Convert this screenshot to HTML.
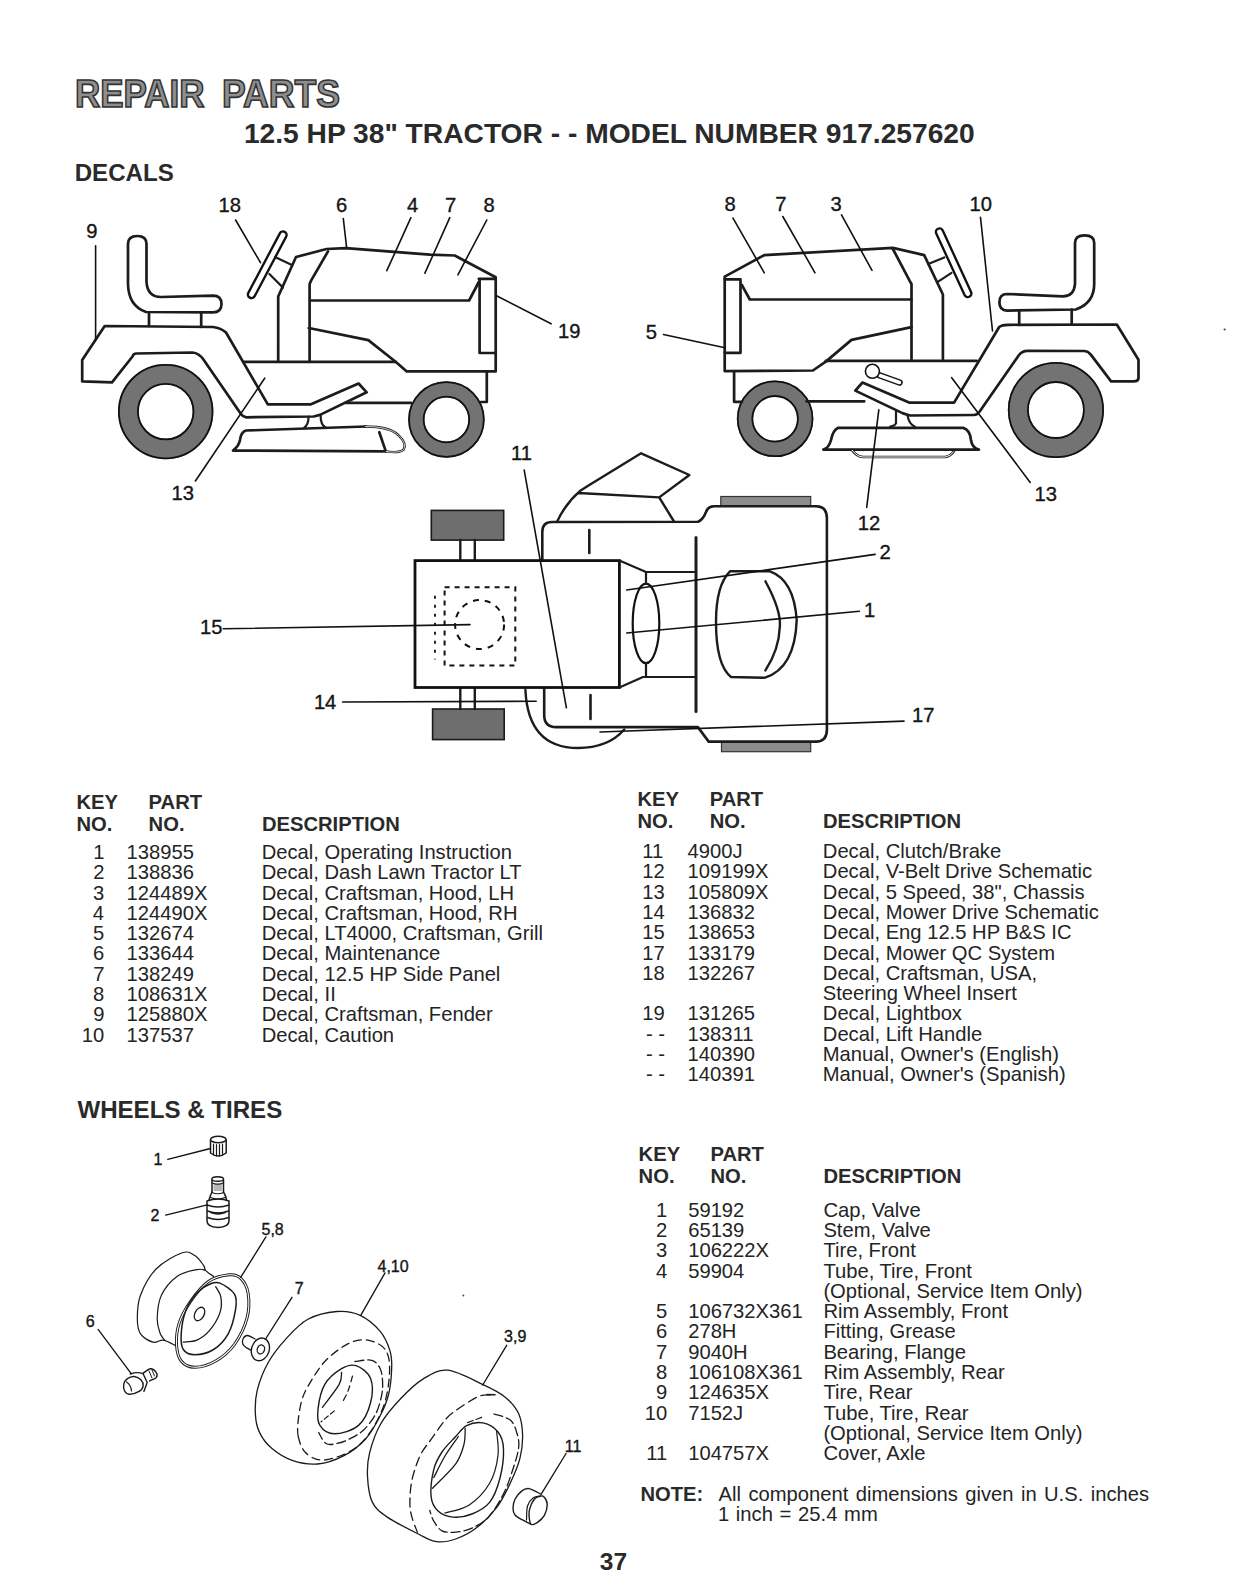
<!DOCTYPE html>
<html><head><meta charset="utf-8"><style>
html,body{margin:0;padding:0;background:#fff;overflow:hidden;width:1244px;height:1584px;}
svg{display:block;font-family:"Liberation Sans",sans-serif;}
</style></head><body>
<svg width="1244" height="1584" viewBox="0 0 1244 1584">
<rect width="1244" height="1584" fill="#fff"/>
<text transform="translate(74.9,106.6) scale(1,1.092)" font-size="35.0" font-weight="bold" fill="#8e8e8e" stroke="#333" stroke-width="1.5">REPAIR</text>
<text transform="translate(221.9,106.6) scale(1,1.074)" font-size="35.6" font-weight="bold" fill="#8e8e8e" stroke="#333" stroke-width="1.5">PARTS</text>
<text x="243.9" y="142.6" font-size="28.2" font-weight="bold" fill="#2a2a2a">12.5 HP 38" TRACTOR - - MODEL NUMBER 917.257620</text>
<text x="74.7" y="180.9" font-size="24.1" font-weight="bold" fill="#2a2a2a">DECALS</text>
<text x="77.4" y="1118.1" font-size="24.1" font-weight="bold" fill="#2a2a2a">WHEELS &amp; TIRES</text>
<text x="599.8" y="1570.3" font-size="24.5" font-weight="bold" fill="#2a2a2a">37</text>
<text x="76.5" y="808.9" font-size="20.2" font-weight="bold" fill="#2a2a2a">KEY</text>
<text x="76.5" y="830.7" font-size="20.2" font-weight="bold" fill="#2a2a2a">NO.</text>
<text x="148.6" y="808.9" font-size="20.2" font-weight="bold" fill="#2a2a2a">PART</text>
<text x="148.6" y="830.7" font-size="20.2" font-weight="bold" fill="#2a2a2a">NO.</text>
<text x="261.9" y="830.7" font-size="20.2" font-weight="bold" fill="#2a2a2a">DESCRIPTION</text>
<text x="104.4" y="858.9" font-size="20.2" text-anchor="end" fill="#242424">1</text>
<text x="126.6" y="858.9" font-size="20.2" fill="#242424">138955</text>
<text x="261.7" y="858.9" font-size="20.2" fill="#242424">Decal, Operating Instruction</text>
<text x="104.4" y="879.2" font-size="20.2" text-anchor="end" fill="#242424">2</text>
<text x="126.6" y="879.2" font-size="20.2" fill="#242424">138836</text>
<text x="261.7" y="879.2" font-size="20.2" fill="#242424">Decal, Dash Lawn Tractor LT</text>
<text x="104.3" y="899.5" font-size="20.2" text-anchor="end" fill="#242424">3</text>
<text x="126.6" y="899.5" font-size="20.2" fill="#242424">124489X</text>
<text x="261.7" y="899.5" font-size="20.2" fill="#242424">Decal, Craftsman, Hood, LH</text>
<text x="104.0" y="919.8" font-size="20.2" text-anchor="end" fill="#242424">4</text>
<text x="126.6" y="919.8" font-size="20.2" fill="#242424">124490X</text>
<text x="261.7" y="919.8" font-size="20.2" fill="#242424">Decal, Craftsman, Hood, RH</text>
<text x="104.2" y="940.1" font-size="20.2" text-anchor="end" fill="#242424">5</text>
<text x="126.6" y="940.1" font-size="20.2" fill="#242424">132674</text>
<text x="261.7" y="940.1" font-size="20.2" fill="#242424">Decal, LT4000, Craftsman, Grill</text>
<text x="104.3" y="960.4" font-size="20.2" text-anchor="end" fill="#242424">6</text>
<text x="126.6" y="960.4" font-size="20.2" fill="#242424">133644</text>
<text x="261.7" y="960.4" font-size="20.2" fill="#242424">Decal, Maintenance</text>
<text x="104.4" y="980.7" font-size="20.2" text-anchor="end" fill="#242424">7</text>
<text x="126.6" y="980.7" font-size="20.2" fill="#242424">138249</text>
<text x="261.7" y="980.7" font-size="20.2" fill="#242424">Decal, 12.5 HP Side Panel</text>
<text x="104.3" y="1001.0" font-size="20.2" text-anchor="end" fill="#242424">8</text>
<text x="126.6" y="1001.0" font-size="20.2" fill="#242424">108631X</text>
<text x="261.7" y="1001.0" font-size="20.2" fill="#242424">Decal, II</text>
<text x="104.4" y="1021.3" font-size="20.2" text-anchor="end" fill="#242424">9</text>
<text x="126.6" y="1021.3" font-size="20.2" fill="#242424">125880X</text>
<text x="261.7" y="1021.3" font-size="20.2" fill="#242424">Decal, Craftsman, Fender</text>
<text x="104.2" y="1041.6" font-size="20.2" text-anchor="end" fill="#242424">10</text>
<text x="126.6" y="1041.6" font-size="20.2" fill="#242424">137537</text>
<text x="261.7" y="1041.6" font-size="20.2" fill="#242424">Decal, Caution</text>
<text x="637.4" y="806.2" font-size="20.2" font-weight="bold" fill="#2a2a2a">KEY</text>
<text x="637.4" y="827.7" font-size="20.2" font-weight="bold" fill="#2a2a2a">NO.</text>
<text x="709.7" y="806.2" font-size="20.2" font-weight="bold" fill="#2a2a2a">PART</text>
<text x="709.7" y="827.7" font-size="20.2" font-weight="bold" fill="#2a2a2a">NO.</text>
<text x="823.0" y="828.2" font-size="20.2" font-weight="bold" fill="#2a2a2a">DESCRIPTION</text>
<text x="642.2" y="858.0" font-size="20.2" fill="#242424">11</text>
<text x="687.6" y="858.0" font-size="20.2" fill="#242424">4900J</text>
<text x="822.8" y="858.0" font-size="20.2" fill="#242424">Decal, Clutch/Brake</text>
<text x="642.2" y="878.3" font-size="20.2" fill="#242424">12</text>
<text x="687.6" y="878.3" font-size="20.2" fill="#242424">109199X</text>
<text x="822.8" y="878.3" font-size="20.2" fill="#242424">Decal, V-Belt Drive Schematic</text>
<text x="642.2" y="898.6" font-size="20.2" fill="#242424">13</text>
<text x="687.6" y="898.6" font-size="20.2" fill="#242424">105809X</text>
<text x="822.8" y="898.6" font-size="20.2" fill="#242424">Decal, 5 Speed, 38", Chassis</text>
<text x="642.2" y="918.9" font-size="20.2" fill="#242424">14</text>
<text x="687.6" y="918.9" font-size="20.2" fill="#242424">136832</text>
<text x="822.8" y="918.9" font-size="20.2" fill="#242424">Decal, Mower Drive Schematic</text>
<text x="642.2" y="939.2" font-size="20.2" fill="#242424">15</text>
<text x="687.6" y="939.2" font-size="20.2" fill="#242424">138653</text>
<text x="822.8" y="939.2" font-size="20.2" fill="#242424">Decal, Eng 12.5 HP B&amp;S IC</text>
<text x="642.2" y="959.5" font-size="20.2" fill="#242424">17</text>
<text x="687.6" y="959.5" font-size="20.2" fill="#242424">133179</text>
<text x="822.8" y="959.5" font-size="20.2" fill="#242424">Decal, Mower QC System</text>
<text x="642.2" y="979.8" font-size="20.2" fill="#242424">18</text>
<text x="687.6" y="979.8" font-size="20.2" fill="#242424">132267</text>
<text x="822.8" y="979.8" font-size="20.2" fill="#242424">Decal, Craftsman, USA,</text>
<text x="822.8" y="1000.1" font-size="20.2" fill="#242424">Steering Wheel Insert</text>
<text x="642.2" y="1020.4" font-size="20.2" fill="#242424">19</text>
<text x="687.6" y="1020.4" font-size="20.2" fill="#242424">131265</text>
<text x="822.8" y="1020.4" font-size="20.2" fill="#242424">Decal, Lightbox</text>
<text x="645.9" y="1040.7" font-size="20.2" fill="#242424">- -</text>
<text x="687.6" y="1040.7" font-size="20.2" fill="#242424">138311</text>
<text x="822.8" y="1040.7" font-size="20.2" fill="#242424">Decal, Lift Handle</text>
<text x="645.9" y="1061.0" font-size="20.2" fill="#242424">- -</text>
<text x="687.6" y="1061.0" font-size="20.2" fill="#242424">140390</text>
<text x="822.8" y="1061.0" font-size="20.2" fill="#242424">Manual, Owner's (English)</text>
<text x="645.9" y="1081.3" font-size="20.2" fill="#242424">- -</text>
<text x="687.6" y="1081.3" font-size="20.2" fill="#242424">140391</text>
<text x="822.8" y="1081.3" font-size="20.2" fill="#242424">Manual, Owner's (Spanish)</text>
<text x="638.6" y="1161.2" font-size="20.2" font-weight="bold" fill="#2a2a2a">KEY</text>
<text x="638.6" y="1182.7" font-size="20.2" font-weight="bold" fill="#2a2a2a">NO.</text>
<text x="710.5" y="1161.2" font-size="20.2" font-weight="bold" fill="#2a2a2a">PART</text>
<text x="710.5" y="1182.7" font-size="20.2" font-weight="bold" fill="#2a2a2a">NO.</text>
<text x="823.4" y="1183.2" font-size="20.2" font-weight="bold" fill="#2a2a2a">DESCRIPTION</text>
<text x="667.3" y="1216.6" font-size="20.2" text-anchor="end" fill="#242424">1</text>
<text x="688.2" y="1216.6" font-size="20.2" fill="#242424">59192</text>
<text x="823.4" y="1216.6" font-size="20.2" fill="#242424">Cap, Valve</text>
<text x="667.3" y="1236.9" font-size="20.2" text-anchor="end" fill="#242424">2</text>
<text x="688.2" y="1236.9" font-size="20.2" fill="#242424">65139</text>
<text x="823.4" y="1236.9" font-size="20.2" fill="#242424">Stem, Valve</text>
<text x="667.3" y="1257.2" font-size="20.2" text-anchor="end" fill="#242424">3</text>
<text x="688.2" y="1257.2" font-size="20.2" fill="#242424">106222X</text>
<text x="823.4" y="1257.2" font-size="20.2" fill="#242424">Tire, Front</text>
<text x="667.3" y="1277.5" font-size="20.2" text-anchor="end" fill="#242424">4</text>
<text x="688.2" y="1277.5" font-size="20.2" fill="#242424">59904</text>
<text x="823.4" y="1277.5" font-size="20.2" fill="#242424">Tube, Tire, Front</text>
<text x="823.4" y="1297.8" font-size="20.2" fill="#242424">(Optional, Service Item Only)</text>
<text x="667.3" y="1318.1" font-size="20.2" text-anchor="end" fill="#242424">5</text>
<text x="688.2" y="1318.1" font-size="20.2" fill="#242424">106732X361</text>
<text x="823.4" y="1318.1" font-size="20.2" fill="#242424">Rim Assembly, Front</text>
<text x="667.3" y="1338.4" font-size="20.2" text-anchor="end" fill="#242424">6</text>
<text x="688.2" y="1338.4" font-size="20.2" fill="#242424">278H</text>
<text x="823.4" y="1338.4" font-size="20.2" fill="#242424">Fitting, Grease</text>
<text x="667.3" y="1358.7" font-size="20.2" text-anchor="end" fill="#242424">7</text>
<text x="688.2" y="1358.7" font-size="20.2" fill="#242424">9040H</text>
<text x="823.4" y="1358.7" font-size="20.2" fill="#242424">Bearing, Flange</text>
<text x="667.3" y="1379.0" font-size="20.2" text-anchor="end" fill="#242424">8</text>
<text x="688.2" y="1379.0" font-size="20.2" fill="#242424">106108X361</text>
<text x="823.4" y="1379.0" font-size="20.2" fill="#242424">Rim Assembly, Rear</text>
<text x="667.3" y="1399.3" font-size="20.2" text-anchor="end" fill="#242424">9</text>
<text x="688.2" y="1399.3" font-size="20.2" fill="#242424">124635X</text>
<text x="823.4" y="1399.3" font-size="20.2" fill="#242424">Tire, Rear</text>
<text x="667.3" y="1419.6" font-size="20.2" text-anchor="end" fill="#242424">10</text>
<text x="688.2" y="1419.6" font-size="20.2" fill="#242424">7152J</text>
<text x="823.4" y="1419.6" font-size="20.2" fill="#242424">Tube, Tire, Rear</text>
<text x="823.4" y="1439.9" font-size="20.2" fill="#242424">(Optional, Service Item Only)</text>
<text x="667.3" y="1460.2" font-size="20.2" text-anchor="end" fill="#242424">11</text>
<text x="688.2" y="1460.2" font-size="20.2" fill="#242424">104757X</text>
<text x="823.4" y="1460.2" font-size="20.2" fill="#242424">Cover, Axle</text>
<text x="640.4" y="1501.4" font-size="20.2" font-weight="bold" fill="#2a2a2a">NOTE:</text>
<text x="718.6" y="1501.4" font-size="20.2" word-spacing="1.8" fill="#242424">All component dimensions given in U.S. inches</text>
<text x="717.9" y="1521.1" font-size="20.2" word-spacing="1.1" fill="#242424">1 inch = 25.4 mm</text>
<circle cx="165.7" cy="411.6" r="37.3" fill="none" stroke="#737373" stroke-width="20.6"/><circle cx="165.7" cy="411.6" r="46.800000000000004" fill="none" stroke="#111" stroke-width="1.8"/><circle cx="165.7" cy="411.6" r="27.8" fill="none" stroke="#111" stroke-width="1.8"/>
<circle cx="446.4" cy="419.5" r="30.1" fill="none" stroke="#737373" stroke-width="16.200000000000003"/><circle cx="446.4" cy="419.5" r="37.400000000000006" fill="none" stroke="#111" stroke-width="1.8"/><circle cx="446.4" cy="419.5" r="22.8" fill="none" stroke="#111" stroke-width="1.8"/>
<path d="M128,284 L128,244 Q128,236 137.3,236 Q146.5,236 146.5,244 L146.5,282 Q147.5,297 161,297 L213,295.6 Q221.5,295.6 221.5,304 Q221.5,312.4 213,312.4 L146,312 Q128.5,306 128,284 Z" fill="none" stroke="#1c1c1c" stroke-width="2.7" stroke-linejoin="round" stroke-linecap="round"/>
<path d="M149,312.4 L149,326 M201.2,312.4 L201.2,327" fill="none" stroke="#1c1c1c" stroke-width="2.7" stroke-linejoin="round" stroke-linecap="round"/>
<path d="M104.7,326 L213,327 Q221,328 226,332.5 L267.8,404.4 L310.4,404.4 L358.6,383.5 L366.7,392.3 L320,414.9 L313.6,416.5 L246,417.3 Q242,416 240.6,413.6 L203.6,359.7 Q199,353 192.4,352.5 L136,353.5 Q133,354 132.9,356 L112,382.3 L82.2,381.4 L82.2,360 Z" fill="none" stroke="#1c1c1c" stroke-width="2.7" stroke-linejoin="round" stroke-linecap="round"/>
<path d="M243.7,361.8 L395.6,361.8" fill="none" stroke="#1c1c1c" stroke-width="2.7" stroke-linejoin="round" stroke-linecap="round"/>
<path d="M345.8,402.8 L411,402.8 M481,402 L486.8,402 L486.8,371.4" fill="none" stroke="#1c1c1c" stroke-width="2.7" stroke-linejoin="round" stroke-linecap="round"/>
<path d="M278.2,361.8 L278.2,296.5 L296,257 L326.5,249 L345.8,248.2 L430,254.7 L454.7,255.5 L495.7,277.2 L495.7,371.4 L406.8,371.4 L395.6,361.8 L368.3,340.1 L308.8,328" fill="none" stroke="#1c1c1c" stroke-width="2.7" stroke-linejoin="round" stroke-linecap="round"/>
<path d="M328,251.4 L311.2,280.4 L309.6,284 L309.6,361.8" fill="none" stroke="#1c1c1c" stroke-width="2.7" stroke-linejoin="round" stroke-linecap="round"/>
<path d="M310,300.5 L469.1,300.5 L478.8,282" fill="none" stroke="#1c1c1c" stroke-width="2.7" stroke-linejoin="round" stroke-linecap="round"/>
<path d="M478.8,278.8 L494.9,278.8 M479.6,279 L479.6,353 L495.7,353" fill="none" stroke="#1c1c1c" stroke-width="2.7" stroke-linejoin="round" stroke-linecap="round"/>
<line x1="283" y1="235" x2="251.5" y2="294.5" stroke="#111" stroke-width="9.5" stroke-linecap="round"/><line x1="283" y1="235" x2="251.5" y2="294.5" stroke="#fff" stroke-width="4.8" stroke-linecap="round"/>
<path d="M275,257 L291.9,265 M269.4,274 L283,287.6" fill="none" stroke="#1c1c1c" stroke-width="2.2" stroke-linejoin="round" stroke-linecap="round"/>
<path d="M379.3,432.2 L385.8,451.4 L233,450.6 Q239,446 240,440 Q241,432 246,430.5 L366,426.5" fill="none" stroke="#1c1c1c" stroke-width="2.7" stroke-linejoin="round" stroke-linecap="round"/>
<path d="M364.9,426.5 C378,426.5 392,428.5 398.6,435.4 C404,440.5 406,446 403.5,449.8 C400,452.5 393,452.5 385.8,451.4" fill="none" stroke="#1c1c1c" stroke-width="2.4" stroke-linejoin="round" stroke-linecap="round"/>
<path d="M364.9,426.5 C378,426.5 392,428.5 398.6,435.4 C404,440.5 406,446 403.5,449.8 C400,452.5 393,452.5 385.8,451.4" fill="none" stroke="#fff" stroke-width="0.8"/>
<path d="M308.6,416.5 Q308.6,425 303.8,428.1 M320.7,415.3 Q320.2,425 326.3,428.1" fill="none" stroke="#1c1c1c" stroke-width="2.2" stroke-linejoin="round" stroke-linecap="round"/>
<line x1="95.6" y1="245.7" x2="95.6" y2="340" stroke="#111" stroke-width="1.6" stroke-linecap="round"/>
<line x1="235.6" y1="220" x2="260.5" y2="262.7" stroke="#111" stroke-width="1.6" stroke-linecap="round"/>
<line x1="343.3" y1="218.5" x2="346.6" y2="247.4" stroke="#111" stroke-width="1.6" stroke-linecap="round"/>
<line x1="410.9" y1="217.7" x2="386.8" y2="270.7" stroke="#111" stroke-width="1.6" stroke-linecap="round"/>
<line x1="449.8" y1="217.7" x2="424.9" y2="273.2" stroke="#111" stroke-width="1.6" stroke-linecap="round"/>
<line x1="486.8" y1="220" x2="457.9" y2="274.8" stroke="#111" stroke-width="1.6" stroke-linecap="round"/>
<line x1="496.5" y1="295.7" x2="551.1" y2="323.8" stroke="#111" stroke-width="1.6" stroke-linecap="round"/>
<line x1="264.7" y1="378.2" x2="195.4" y2="481" stroke="#111" stroke-width="1.6" stroke-linecap="round"/>
<text x="218.6" y="212.2" font-size="20.2" fill="#151515" stroke="#151515" stroke-width="0.35">18</text>
<text x="336.1" y="212.4" font-size="20.2" fill="#151515" stroke="#151515" stroke-width="0.35">6</text>
<text x="407.1" y="212.4" font-size="20.2" fill="#151515" stroke="#151515" stroke-width="0.35">4</text>
<text x="445.1" y="212.4" font-size="20.2" fill="#151515" stroke="#151515" stroke-width="0.35">7</text>
<text x="483.4" y="212.4" font-size="20.2" fill="#151515" stroke="#151515" stroke-width="0.35">8</text>
<text x="86.2" y="237.5" font-size="20.2" fill="#151515" stroke="#151515" stroke-width="0.35">9</text>
<text x="558.0" y="338.1" font-size="20.2" fill="#151515" stroke="#151515" stroke-width="0.35">19</text>
<text x="171.6" y="499.9" font-size="20.2" fill="#151515" stroke="#151515" stroke-width="0.35">13</text>
<circle cx="1055.9" cy="410" r="37.6" fill="none" stroke="#737373" stroke-width="20.8"/><circle cx="1055.9" cy="410" r="47.2" fill="none" stroke="#111" stroke-width="1.8"/><circle cx="1055.9" cy="410" r="28.0" fill="none" stroke="#111" stroke-width="1.8"/>
<circle cx="775.1" cy="418.8" r="30.1" fill="none" stroke="#737373" stroke-width="16.200000000000003"/><circle cx="775.1" cy="418.8" r="37.400000000000006" fill="none" stroke="#111" stroke-width="1.8"/><circle cx="775.1" cy="418.8" r="22.8" fill="none" stroke="#111" stroke-width="1.8"/>
<path d="M1094.2,284 L1094.2,243 Q1094.2,235.3 1084.6,235.3 Q1075,235.3 1075,243 L1075,284 Q1074,296.4 1062.9,296.4 L1007,294 Q999.4,294 999.4,302.3 Q999.4,310.6 1007,310.6 L1075.8,309.5 Q1094.2,303 1094.2,284 Z" fill="none" stroke="#1c1c1c" stroke-width="2.7" stroke-linejoin="round" stroke-linecap="round"/>
<path d="M1019.2,310.6 L1019.2,324.5 M1071.7,309.6 L1071.7,324.5" fill="none" stroke="#1c1c1c" stroke-width="2.7" stroke-linejoin="round" stroke-linecap="round"/>
<path d="M999.2,327 Q1002,324.8 1008,324.8 L1116.8,324.5 L1138.5,359.7 L1138.5,378.2 Q1138,381.4 1134,381.4 L1111.1,381.4 L1091,354.9 Q1088,351 1084,351 L1027.5,350.9 Q1022,351 1019,355 L979.3,412 Q977,415 974,415 L910,415.5 L903,413.4 L855.3,390.6 L862.5,382.5 L909.1,402.6 L954.1,402.6 Z" fill="none" stroke="#1c1c1c" stroke-width="2.7" stroke-linejoin="round" stroke-linecap="round"/>
<path d="M825.8,360.8 L976.7,360.8" fill="none" stroke="#1c1c1c" stroke-width="2.7" stroke-linejoin="round" stroke-linecap="round"/>
<path d="M734.1,371.3 L734.1,401.8 L742,401.8 M806.5,401.3 L864.3,401.3" fill="none" stroke="#1c1c1c" stroke-width="2.7" stroke-linejoin="round" stroke-linecap="round"/>
<path d="M942.9,359.2 L942.9,294.5 L924.2,255.1 L892.9,247.9 L764.3,255.1 L724.7,276.6 L724.7,371.1 L812.9,370.5 L825.8,361.6 L851.5,339.9 L911.5,327.1" fill="none" stroke="#1c1c1c" stroke-width="2.7" stroke-linejoin="round" stroke-linecap="round"/>
<path d="M892.9,249 L909.7,280.8 L911.5,284 L911.5,359.2" fill="none" stroke="#1c1c1c" stroke-width="2.7" stroke-linejoin="round" stroke-linecap="round"/>
<path d="M741.8,284.9 L749.8,299.5 L911.5,299.5" fill="none" stroke="#1c1c1c" stroke-width="2.7" stroke-linejoin="round" stroke-linecap="round"/>
<path d="M724.7,279.4 L740.5,279.4 L740.5,352.8 L724.7,352.8" fill="none" stroke="#1c1c1c" stroke-width="2.7" stroke-linejoin="round" stroke-linecap="round"/>
<line x1="939.5" y1="232" x2="967.8" y2="293.5" stroke="#111" stroke-width="9.5" stroke-linecap="round"/><line x1="939.5" y1="232" x2="967.8" y2="293.5" stroke="#fff" stroke-width="4.8" stroke-linecap="round"/>
<path d="M928.2,264 L944.3,257.5 M937,282.4 L951.5,272.8" fill="none" stroke="#1c1c1c" stroke-width="2.2" stroke-linejoin="round" stroke-linecap="round"/>
<line x1="880" y1="375.5" x2="899.5" y2="382.5" stroke="#111" stroke-width="6.6" stroke-linecap="round"/><line x1="880" y1="375.5" x2="899.5" y2="382.5" stroke="#fff" stroke-width="3.6" stroke-linecap="round"/>
<circle cx="872.4" cy="371.3" r="7" fill="#fff" stroke="#111" stroke-width="1.6"/>
<path d="M837.8,427.9 L963.2,427.9 Q970,430 971,440 Q972,448 978.9,449.6 L823.3,449.6 Q829,448 831,440 Q833,430 837.8,427.9 Z" fill="none" stroke="#1c1c1c" stroke-width="2.7" stroke-linejoin="round" stroke-linecap="round"/>
<path d="M851.9,449.9 Q857,456.8 863,457 L945.3,457 Q951,456 953.9,451.4" fill="none" stroke="#1c1c1c" stroke-width="2.6" stroke-linejoin="round" stroke-linecap="round"/>
<path d="M851.9,449.9 Q857,456.8 863,457 L945.3,457 Q951,456 953.9,451.4" fill="none" stroke="#fff" stroke-width="1.0"/>
<path d="M896,411.6 L896,423.2 Q895,426 890.3,426.5 M907.6,415.9 Q909,424 914.9,426.8" fill="none" stroke="#1c1c1c" stroke-width="2.2" stroke-linejoin="round" stroke-linecap="round"/>
<line x1="733" y1="218.1" x2="764.3" y2="272.8" stroke="#111" stroke-width="1.6" stroke-linecap="round"/>
<line x1="782.8" y1="216.5" x2="815" y2="272.8" stroke="#111" stroke-width="1.6" stroke-linecap="round"/>
<line x1="841.5" y1="214.9" x2="872" y2="270.4" stroke="#111" stroke-width="1.6" stroke-linecap="round"/>
<line x1="980.5" y1="217.3" x2="992.5" y2="331" stroke="#111" stroke-width="1.6" stroke-linecap="round"/>
<line x1="663.4" y1="334.5" x2="724.9" y2="347.8" stroke="#111" stroke-width="1.6" stroke-linecap="round"/>
<line x1="878.8" y1="409.8" x2="866.7" y2="507.4" stroke="#111" stroke-width="1.6" stroke-linecap="round"/>
<line x1="951.7" y1="377.7" x2="1030.2" y2="482.4" stroke="#111" stroke-width="1.6" stroke-linecap="round"/>
<text x="724.5" y="211.3" font-size="20.2" fill="#151515" stroke="#151515" stroke-width="0.35">8</text>
<text x="775.2" y="211.3" font-size="20.2" fill="#151515" stroke="#151515" stroke-width="0.35">7</text>
<text x="830.6" y="211.3" font-size="20.2" fill="#151515" stroke="#151515" stroke-width="0.35">3</text>
<text x="969.6" y="211.3" font-size="20.2" fill="#151515" stroke="#151515" stroke-width="0.35">10</text>
<text x="645.7" y="339.4" font-size="20.2" fill="#151515" stroke="#151515" stroke-width="0.35">5</text>
<text x="857.8" y="529.9" font-size="20.2" fill="#151515" stroke="#151515" stroke-width="0.35">12</text>
<text x="1034.6" y="500.9" font-size="20.2" fill="#151515" stroke="#151515" stroke-width="0.35">13</text>
<rect x="431.3" y="510.4" width="72.4" height="29.7" fill="#6e6e6e" stroke="#1a1a1a" stroke-width="1.6"/>
<rect x="432.6" y="709" width="71.6" height="30.6" fill="#6e6e6e" stroke="#1a1a1a" stroke-width="1.6"/>
<rect x="720.8" y="496.5" width="89.9" height="9.7" fill="#8c8c8c" stroke="#333" stroke-width="1.2"/>
<rect x="721.5" y="741.6" width="89.2" height="10.1" fill="#8c8c8c" stroke="#333" stroke-width="1.2"/>
<path d="M460.3,540 L460.3,560.6 M474.8,540 L474.8,560.6 M460.3,687.5 L460.3,709 M474.8,687.5 L474.8,709" fill="none" stroke="#1c1c1c" stroke-width="2.4" stroke-linejoin="round" stroke-linecap="round"/>
<path d="M542.3,560.6 L542.3,532 Q542.3,522 552,522 L697.9,521.8 Q703,520 706,512 Q708,506.2 714,506.2 L816,506.2 Q826.9,506.2 826.9,518.2 L826.9,729.5 Q826.9,741.6 816,741.6 L708.7,741.6 L697.9,727.1 L556,727.1 Q544.2,727.1 544.2,715 L544.2,687.5" fill="none" stroke="#1c1c1c" stroke-width="2.6" stroke-linejoin="round" stroke-linecap="round"/>
<path d="M557.4,521 Q566,503 579.9,491.1 L588.1,485.8 L641.1,453.3 L689.4,475 L659.2,497.4 L673.7,521 M578.4,493 L659.2,497.4" fill="none" stroke="#1c1c1c" stroke-width="2.4" stroke-linejoin="round" stroke-linecap="round"/>
<rect x="415" y="560.6" width="204.4" height="126.9" fill="#fff" stroke="#111" stroke-width="2.8"/>
<rect x="444.6" y="587.2" width="70.7" height="78.4" fill="none" stroke="#111" stroke-width="2" stroke-dasharray="5,5"/>
<line x1="435" y1="595.7" x2="435" y2="659.6" stroke="#111" stroke-width="1.8" stroke-dasharray="3,6"/>
<circle cx="479.6" cy="624.6" r="24.5" fill="none" stroke="#111" stroke-width="2" stroke-dasharray="6,6"/>
<path d="M619.4,560.6 L646,572 L695.4,572 M619.4,687.5 L643,677 L696,677" fill="none" stroke="#1c1c1c" stroke-width="2.2" stroke-linejoin="round" stroke-linecap="round"/>
<path d="M696,537.5 L696,711.4" fill="none" stroke="#1c1c1c" stroke-width="3.0" stroke-linejoin="round" stroke-linecap="round"/>
<ellipse cx="646" cy="623.4" rx="13.3" ry="39.8" fill="none" stroke="#111" stroke-width="2.2"/>
<path d="M646,572 L646,583.6 M646,663.2 L646,677" fill="none" stroke="#1c1c1c" stroke-width="2.2" stroke-linejoin="round" stroke-linecap="round"/>
<path d="M730,571.3 L770,571.3 Q794,580 796.7,620 Q795,668 765,677.7 L731,677 Q716,665 716,622 Q716,585 730,571.3 Z" fill="none" stroke="#1c1c1c" stroke-width="2.4" stroke-linejoin="round" stroke-linecap="round"/>
<path d="M765.4,581.2 Q781,610 779.9,626 Q779,650 765.4,670.4" fill="none" stroke="#1c1c1c" stroke-width="2.4" stroke-linejoin="round" stroke-linecap="round"/>
<path d="M589.3,530 L589.3,553 M590.5,695 L590.5,719" fill="none" stroke="#1c1c1c" stroke-width="2.6" stroke-linejoin="round" stroke-linecap="round"/>
<path d="M525.4,689.7 Q528,748 578,748 Q608,748 624.3,729.5" fill="none" stroke="#1c1c1c" stroke-width="2.4" stroke-linejoin="round" stroke-linecap="round"/>
<line x1="626.7" y1="590" x2="875.1" y2="554.4" stroke="#111" stroke-width="1.6" stroke-linecap="round"/>
<line x1="626.7" y1="633" x2="859.4" y2="611.3" stroke="#111" stroke-width="1.6" stroke-linecap="round"/>
<line x1="600" y1="732" x2="904" y2="721.1" stroke="#111" stroke-width="1.6" stroke-linecap="round"/>
<line x1="524.2" y1="470.1" x2="566.4" y2="707.8" stroke="#111" stroke-width="1.6" stroke-linecap="round"/>
<line x1="223.4" y1="628.8" x2="470" y2="624.6" stroke="#111" stroke-width="1.6" stroke-linecap="round"/>
<line x1="342.6" y1="702" x2="536.2" y2="701.3" stroke="#111" stroke-width="1.6" stroke-linecap="round"/>
<text x="511.0" y="459.6" font-size="20.2" fill="#151515" stroke="#151515" stroke-width="0.35">11</text>
<text x="200.0" y="634.0" font-size="20.2" fill="#151515" stroke="#151515" stroke-width="0.35">15</text>
<text x="313.9" y="708.5" font-size="20.2" fill="#151515" stroke="#151515" stroke-width="0.35">14</text>
<text x="879.5" y="559.4" font-size="20.2" fill="#151515" stroke="#151515" stroke-width="0.35">2</text>
<text x="863.9" y="616.7" font-size="20.2" fill="#151515" stroke="#151515" stroke-width="0.35">1</text>
<text x="912.1" y="722.1" font-size="20.2" fill="#151515" stroke="#151515" stroke-width="0.35">17</text>
<path d="M210.5,1140 L210.5,1153 Q218.3,1159 226.2,1153 L226.2,1140" fill="none" stroke="#1a1a1a" stroke-width="1.5" stroke-linejoin="round" stroke-linecap="round"/>
<ellipse cx="218.3" cy="1139.5" rx="7.8" ry="3.2" fill="#fff" stroke="#1a1a1a" stroke-width="1.5"/>
<path d="M213.5,1144 L213.5,1155 M216.5,1144.5 L216.5,1156 M219.5,1144.5 L219.5,1156 M222.5,1144 L222.5,1155" fill="none" stroke="#1a1a1a" stroke-width="1.2" stroke-linejoin="round" stroke-linecap="round"/>
<path d="M212,1192 L212,1179.5 M223.5,1179.5 L223.5,1192" fill="none" stroke="#1a1a1a" stroke-width="1.5" stroke-linejoin="round" stroke-linecap="round"/>
<ellipse cx="217.7" cy="1179" rx="5.8" ry="2.3" fill="#fff" stroke="#1a1a1a" stroke-width="1.4"/>
<rect x="213.5" y="1183" width="8.5" height="8" fill="#b8b8b8"/>
<path d="M212.5,1183 Q217.7,1185.5 223,1183 M212,1192.5 Q217.7,1195 223.5,1192.5" fill="none" stroke="#1a1a1a" stroke-width="1.2" stroke-linejoin="round" stroke-linecap="round"/>
<path d="M212,1192 Q210,1196 209,1200 M223.5,1192 Q226,1196 226.5,1200" fill="none" stroke="#1a1a1a" stroke-width="1.5" stroke-linejoin="round" stroke-linecap="round"/>
<path d="M210.5,1197.5 Q217.7,1200.5 225,1197.5" fill="none" stroke="#1a1a1a" stroke-width="1.1" stroke-linejoin="round" stroke-linecap="round"/>
<path d="M207,1201 Q218,1197 229,1201 L229,1221 Q229,1227 218,1227.5 Q207,1227 207,1221 Z" fill="none" stroke="#1a1a1a" stroke-width="1.5" stroke-linejoin="round" stroke-linecap="round"/>
<path d="M207,1205 Q218,1209 229,1205 M207.5,1211 Q218,1215 228.5,1211 M207.5,1217.5 Q218,1221.5 228.5,1217.5" fill="none" stroke="#1a1a1a" stroke-width="1.4" stroke-linejoin="round" stroke-linecap="round"/>
<path d="M211,1212.5 Q218,1215 225,1212.5" fill="none" stroke="#1a1a1a" stroke-width="1.8" stroke-linejoin="round" stroke-linecap="round"/>
<path d="M205.2,1270.1 C204.9,1269.2 204.9,1267.3 203.2,1264.9 C201.5,1262.5 198.3,1257.5 194.8,1255.5 C191.3,1253.5 188.8,1250.5 182.3,1252.8 C175.9,1255.0 163.1,1261.9 156.1,1269.0 C149.1,1276.1 143.6,1287.0 140.5,1295.2 C137.4,1303.4 137.3,1311.8 137.3,1318.2 C137.3,1324.6 137.9,1329.8 140.5,1333.8 C143.1,1337.8 149.2,1341.2 153.0,1342.2 C156.8,1343.2 159.6,1339.5 163.4,1340.1 C167.2,1340.7 173.9,1344.8 176.0,1345.8" fill="none" stroke="#1a1a1a" stroke-width="1.2" stroke-linejoin="round" stroke-linecap="round"/>
<path d="M205.2,1270.1 Q209,1274 213.6,1276.4" fill="none" stroke="#1a1a1a" stroke-width="1.2" stroke-linejoin="round" stroke-linecap="round"/>
<path d="M205.2,1270.1 C203.8,1270.0 201.6,1268.5 196.9,1269.6 C192.2,1270.6 182.9,1272.1 177.0,1276.4 C171.1,1280.7 164.7,1288.2 161.4,1295.2 C158.1,1302.2 157.4,1311.9 157.2,1318.2 C157.0,1324.5 158.8,1329.3 160.0,1333.0 C161.2,1336.7 163.8,1338.9 164.5,1340.1" fill="none" stroke="#1a1a1a" stroke-width="1.2" stroke-linejoin="round" stroke-linecap="round"/>
<path d="M176.5,1344.3 C176.2,1338.0 176.8,1330.6 179.1,1323.4 C181.4,1316.2 185.7,1308.4 190.6,1301.4 C195.5,1294.4 201.9,1286.0 208.4,1281.6 C214.9,1277.2 223.9,1275.3 229.3,1274.8 C234.7,1274.3 237.7,1275.4 240.8,1278.4 C243.9,1281.5 247.1,1286.5 248.1,1293.1 C249.1,1299.7 249.3,1309.7 247.0,1318.2 C244.7,1326.7 239.7,1337.2 234.5,1344.3 C229.3,1351.4 222.3,1357.2 215.7,1361.0 C209.1,1364.8 200.6,1367.3 194.8,1367.3 C189.1,1367.3 184.2,1364.8 181.2,1361.0 C178.1,1357.2 176.8,1350.6 176.5,1344.3 Z" fill="#fff" stroke="#1a1a1a" stroke-width="3.0" stroke-linejoin="round" stroke-linecap="round"/>
<path d="M176.5,1344.3 C176.2,1338.0 176.8,1330.6 179.1,1323.4 C181.4,1316.2 185.7,1308.4 190.6,1301.4 C195.5,1294.4 201.9,1286.0 208.4,1281.6 C214.9,1277.2 223.9,1275.3 229.3,1274.8 C234.7,1274.3 237.7,1275.4 240.8,1278.4 C243.9,1281.5 247.1,1286.5 248.1,1293.1 C249.1,1299.7 249.3,1309.7 247.0,1318.2 C244.7,1326.7 239.7,1337.2 234.5,1344.3 C229.3,1351.4 222.3,1357.2 215.7,1361.0 C209.1,1364.8 200.6,1367.3 194.8,1367.3 C189.1,1367.3 184.2,1364.8 181.2,1361.0 C178.1,1357.2 176.8,1350.6 176.5,1344.3 Z" fill="none" stroke="#fff" stroke-width="1.1"/>
<path d="M219.9,1283.1 C224.0,1284.8 231.9,1289.6 234.5,1294.1 C237.1,1298.5 236.6,1303.2 235.5,1309.8 C234.4,1316.4 231.8,1327.2 228.2,1333.8 C224.5,1340.4 219.2,1346.0 213.6,1349.5 C208.0,1353.0 199.9,1354.7 194.8,1354.7 C189.8,1354.7 185.6,1353.0 183.3,1349.5 C181.0,1346.0 180.8,1340.4 181.2,1333.8 C181.6,1327.2 183.2,1317.0 186.0,1310.0 C188.8,1303.0 194.0,1296.3 198.0,1292.0 C202.0,1287.7 206.3,1285.5 210.0,1284.0 C213.7,1282.5 215.8,1281.4 219.9,1283.1 Z" fill="none" stroke="#1a1a1a" stroke-width="1.5" stroke-linejoin="round" stroke-linecap="round"/>
<path d="M215.7,1286.8 C216.6,1288.5 220.2,1292.9 220.9,1297.3 C221.6,1301.7 221.8,1307.3 219.9,1312.9 C218.0,1318.5 213.2,1326.2 209.4,1330.7 C205.6,1335.2 201.2,1338.2 196.9,1340.1 C192.6,1342.0 185.6,1341.8 183.3,1342.2" fill="none" stroke="#1a1a1a" stroke-width="1.3" stroke-linejoin="round" stroke-linecap="round"/>
<ellipse cx="199.5" cy="1314" rx="4.6" ry="7.2" transform="rotate(28 199.5 1314)" fill="none" stroke="#1a1a1a" stroke-width="1.3"/>
<path d="M123.8,1384.1 C124.2,1382.1 125.3,1380.2 127.1,1378.9 C128.8,1377.6 132.0,1376.3 134.3,1376.5 C136.6,1376.7 139.6,1378.5 141.1,1380.1 C142.6,1381.7 143.4,1384.2 143.1,1386.1 C142.8,1388.0 141.4,1390.1 139.1,1391.4 C136.8,1392.8 131.5,1394.3 129.1,1394.2 C126.7,1394.1 125.5,1392.7 124.6,1391.0 C123.7,1389.3 123.4,1386.1 123.8,1384.1 Z" fill="none" stroke="#1a1a1a" stroke-width="1.4" stroke-linejoin="round" stroke-linecap="round"/>
<path d="M130.3,1374 Q137,1371.5 143.1,1373.7 L147.2,1382.5 L143.9,1391.4" fill="none" stroke="#1a1a1a" stroke-width="1.4" stroke-linejoin="round" stroke-linecap="round"/>
<path d="M143.1,1373.3 C144.3,1372.5 148.2,1369.0 150.4,1368.8 C152.6,1368.6 155.0,1370.7 156.0,1372.1 C157.0,1373.5 157.5,1375.8 156.4,1377.3 C155.3,1378.8 150.7,1380.3 149.6,1380.9" fill="none" stroke="#1a1a1a" stroke-width="1.4" stroke-linejoin="round" stroke-linecap="round"/>
<path d="M149,1371 L152,1378 M152,1370 L154.5,1376" fill="none" stroke="#1a1a1a" stroke-width="1.0" stroke-linejoin="round" stroke-linecap="round"/>
<path d="M126.5,1382 Q131,1385 131.5,1391" fill="none" stroke="#1a1a1a" stroke-width="1.2" stroke-linejoin="round" stroke-linecap="round"/>
<path d="M255.0,1339.0 C253.8,1338.4 249.5,1335.6 247.5,1335.5 C245.5,1335.4 244.0,1337.1 243.2,1338.5 C242.4,1339.9 242.3,1342.5 242.8,1344.0 C243.3,1345.5 244.3,1346.3 246.0,1347.5 C247.7,1348.7 251.8,1350.4 253.0,1351.0" fill="none" stroke="#1a1a1a" stroke-width="1.3" stroke-linejoin="round" stroke-linecap="round"/>
<ellipse cx="260.4" cy="1349.4" rx="8.8" ry="11.6" transform="rotate(18 260.4 1349.4)" fill="#fff" stroke="#1a1a1a" stroke-width="1.4"/>
<ellipse cx="260.9" cy="1349.4" rx="3.6" ry="4.6" transform="rotate(18 260.9 1349.4)" fill="none" stroke="#1a1a1a" stroke-width="1.3"/>
<path d="M336.8,1311.5 C345.4,1310.8 352.5,1311.8 359.7,1315.1 C366.9,1318.4 375.2,1325.5 380.2,1331.4 C385.2,1337.3 388.0,1344.6 389.9,1350.6 C391.8,1356.6 391.9,1360.3 391.7,1367.5 C391.5,1374.7 390.6,1386.0 388.7,1394.0 C386.8,1402.0 384.0,1408.3 380.2,1415.8 C376.4,1423.2 371.8,1432.1 365.8,1438.7 C359.8,1445.3 352.1,1451.4 344.0,1455.6 C335.9,1459.8 326.1,1463.2 317.5,1464.0 C308.9,1464.8 299.8,1463.0 292.2,1460.4 C284.6,1457.8 277.1,1452.9 271.7,1448.3 C266.3,1443.7 262.3,1438.2 259.6,1432.6 C256.9,1427.0 255.8,1421.6 255.4,1414.6 C255.0,1407.6 255.1,1399.1 257.2,1390.4 C259.3,1381.8 263.3,1371.3 268.1,1362.7 C272.9,1354.1 279.6,1345.8 286.2,1338.6 C292.8,1331.4 299.5,1323.8 307.9,1319.3 C316.3,1314.8 328.2,1312.2 336.8,1311.5 Z" fill="#fff" stroke="#1a1a1a" stroke-width="1.3" stroke-linejoin="round" stroke-linecap="round"/>
<path d="M298.2,1436.3 C297.1,1431.1 297.6,1426.6 298.2,1420.6 C298.8,1414.5 300.1,1406.0 301.9,1400.0 C303.7,1394.0 305.3,1390.8 309.1,1384.4 C312.9,1378.0 318.6,1368.1 324.8,1361.5 C331.0,1354.9 339.9,1348.2 346.5,1344.6 C353.1,1341.0 358.8,1339.6 364.6,1339.8 C370.4,1340.0 377.4,1342.8 381.4,1345.8 C385.4,1348.8 387.4,1352.2 388.7,1357.9 C390.0,1363.6 389.8,1372.2 389.0,1380.0 C388.2,1387.8 386.7,1397.0 384.0,1405.0 C381.3,1413.0 377.3,1421.2 373.0,1428.0 C368.7,1434.8 363.5,1441.3 358.0,1446.0 C352.5,1450.7 346.3,1453.7 340.0,1456.0 C333.7,1458.3 325.8,1460.7 320.0,1460.0 C314.2,1459.3 308.6,1456.0 305.0,1452.0 C301.4,1448.0 299.3,1441.5 298.2,1436.3 Z" fill="none" stroke="#1a1a1a" stroke-width="1.3" stroke-linejoin="round" stroke-linecap="round" stroke-dasharray="8,5"/>
<path d="M354.9,1361.5 C357.7,1361.3 367.6,1359.1 371.8,1360.3 C376.0,1361.5 378.4,1365.1 380.2,1368.7 C382.0,1372.3 382.4,1377.4 382.6,1382.0 C382.8,1386.6 382.6,1391.1 381.4,1396.5 C380.2,1401.9 378.4,1409.0 375.4,1414.6 C372.4,1420.2 367.5,1426.2 363.3,1430.2 C359.1,1434.2 354.5,1436.5 350.1,1438.7 C345.7,1440.9 340.8,1442.7 336.8,1443.5 C332.8,1444.3 329.0,1445.3 326.0,1443.5 C323.0,1441.7 319.9,1434.4 318.7,1432.6" fill="none" stroke="#1a1a1a" stroke-width="1.3" stroke-linejoin="round" stroke-linecap="round" stroke-dasharray="9,4"/>
<path d="M356.1,1365.7 C360.9,1367.3 368.2,1372.3 370.6,1378.4 C373.0,1384.5 372.6,1394.7 370.6,1402.5 C368.6,1410.3 364.5,1420.2 358.5,1425.4 C352.5,1430.6 340.8,1433.8 334.4,1433.8 C328.0,1433.8 322.6,1429.6 319.9,1425.4 C317.2,1421.2 317.3,1415.3 318.1,1408.5 C318.9,1401.7 320.9,1391.0 324.8,1384.4 C328.7,1377.8 336.4,1371.8 341.6,1368.7 C346.8,1365.6 351.3,1364.1 356.1,1365.7 Z" fill="none" stroke="#1a1a1a" stroke-width="1.4" stroke-linejoin="round" stroke-linecap="round"/>
<path d="M341.6,1372.3 C341.2,1374.3 342.4,1378.6 339.2,1384.4 C336.0,1390.2 325.2,1403.5 322.4,1407.3" fill="none" stroke="#1a1a1a" stroke-width="1.3" stroke-linejoin="round" stroke-linecap="round"/>
<path d="M334.4,1410.9 L321.1,1421.8" fill="none" stroke="#1a1a1a" stroke-width="1.2" stroke-linejoin="round" stroke-linecap="round" stroke-dasharray="5,3"/>
<path d="M352.5,1376.0 C351.8,1378.5 349.8,1386.4 348.0,1391.0 C346.2,1395.6 342.7,1401.6 341.6,1403.7" fill="none" stroke="#1a1a1a" stroke-width="1.2" stroke-linejoin="round" stroke-linecap="round" stroke-dasharray="6,4"/>
<path d="M447.5,1370.2 C457.5,1371.1 473.4,1380.1 483.0,1384.6 C492.6,1389.0 499.0,1392.1 504.9,1396.9 C510.8,1401.7 515.5,1406.9 518.5,1413.3 C521.5,1419.7 522.4,1427.7 522.6,1435.2 C522.8,1442.7 521.9,1450.4 519.9,1458.4 C517.9,1466.4 514.2,1474.8 510.3,1483.0 C506.4,1491.2 502.3,1500.1 496.6,1507.6 C490.9,1515.1 483.0,1522.9 476.2,1528.1 C469.4,1533.3 462.3,1536.7 455.7,1539.0 C449.1,1541.3 442.9,1542.6 436.5,1541.7 C430.1,1540.8 425.6,1537.6 417.4,1533.5 C409.2,1529.4 394.8,1522.3 387.3,1517.1 C379.8,1511.9 375.6,1508.9 372.3,1502.1 C369.0,1495.3 367.9,1484.4 367.5,1476.2 C367.1,1468.0 367.4,1461.6 369.6,1452.9 C371.8,1444.2 375.3,1433.3 380.5,1424.2 C385.7,1415.1 393.9,1405.8 401.0,1398.3 C408.1,1390.8 415.1,1383.8 422.9,1379.1 C430.6,1374.4 437.5,1369.3 447.5,1370.2 Z" fill="#fff" stroke="#1a1a1a" stroke-width="1.3" stroke-linejoin="round" stroke-linecap="round"/>
<path d="M489.8,1394.8 C487.8,1395.2 483.2,1394.3 477.5,1396.9 C471.8,1399.5 460.9,1406.9 455.7,1410.6 C450.5,1414.2 450.2,1414.0 446.1,1418.8 C442.0,1423.6 435.4,1433.1 431.1,1439.3 C426.8,1445.5 423.3,1448.9 420.1,1455.7 C416.9,1462.5 413.6,1472.3 411.9,1480.3 C410.2,1488.3 409.9,1497.4 409.9,1503.5 C409.9,1509.6 410.6,1512.3 411.9,1517.1 C413.1,1521.9 416.5,1529.7 417.4,1532.2" fill="none" stroke="#1a1a1a" stroke-width="1.3" stroke-linejoin="round" stroke-linecap="round" stroke-dasharray="9,5"/>
<path d="M487,1394.6 L495,1394.8" fill="none" stroke="#1a1a1a" stroke-width="1.6" stroke-linejoin="round" stroke-linecap="round"/>
<path d="M493.9,1414.0 C496.6,1415.0 506.4,1416.8 510.3,1420.1 C514.2,1423.4 515.7,1429.0 517.1,1433.8 C518.5,1438.6 519.4,1442.4 518.5,1448.8 C517.6,1455.2 514.5,1464.5 512.0,1472.0 C509.5,1479.5 507.4,1486.4 503.5,1493.9 C499.6,1501.4 493.8,1511.4 488.5,1517.1 C483.2,1522.8 477.5,1525.6 472.0,1528.1 C466.5,1530.6 460.7,1531.8 455.7,1532.2 C450.7,1532.7 445.6,1532.6 442.0,1530.8 C438.4,1529.0 435.9,1524.6 433.8,1521.2 C431.8,1517.8 430.4,1512.1 429.7,1510.3" fill="none" stroke="#1a1a1a" stroke-width="1.3" stroke-linejoin="round" stroke-linecap="round" stroke-dasharray="9,4"/>
<path d="M481.6,1417.4 L466.6,1422.9" fill="none" stroke="#1a1a1a" stroke-width="1.2" stroke-linejoin="round" stroke-linecap="round" stroke-dasharray="6,3"/>
<path d="M483.0,1422.9 C488.2,1424.0 494.6,1427.7 498.0,1432.0 C501.4,1436.3 503.2,1441.1 503.5,1448.8 C503.8,1456.5 502.3,1469.1 500.0,1478.0 C497.7,1486.9 494.5,1496.1 489.8,1502.1 C485.1,1508.1 478.1,1511.5 472.0,1514.0 C465.9,1516.5 458.6,1517.6 452.9,1517.1 C447.2,1516.6 441.6,1514.4 438.0,1511.0 C434.4,1507.6 431.8,1503.5 431.1,1496.6 C430.4,1489.6 432.0,1476.7 433.8,1469.3 C435.6,1461.9 438.4,1457.5 442.0,1452.0 C445.6,1446.5 451.6,1440.9 455.7,1436.5 C459.8,1432.1 462.1,1427.9 466.6,1425.6 C471.2,1423.3 477.8,1421.8 483.0,1422.9 Z" fill="none" stroke="#1a1a1a" stroke-width="1.4" stroke-linejoin="round" stroke-linecap="round"/>
<path d="M496.6,1431.0 C496.8,1435.1 499.1,1447.0 498.0,1455.7 C496.9,1464.4 494.6,1474.8 489.8,1483.0 C485.0,1491.2 476.8,1499.9 469.3,1504.9 C461.8,1509.9 448.8,1511.7 444.7,1513.0" fill="none" stroke="#1a1a1a" stroke-width="1.2" stroke-linejoin="round" stroke-linecap="round"/>
<path d="M465.2,1428.3 C465.0,1431.0 465.5,1438.8 463.9,1444.7 C462.3,1450.6 460.9,1456.6 455.7,1463.9 C450.4,1471.2 436.3,1484.3 432.4,1488.4" fill="none" stroke="#1a1a1a" stroke-width="1.3" stroke-linejoin="round" stroke-linecap="round"/>
<path d="M458.4,1436.5 C456.2,1439.8 449.1,1449.2 445.0,1456.0 C440.9,1462.8 435.7,1473.9 433.8,1477.5" fill="none" stroke="#1a1a1a" stroke-width="1.3" stroke-linejoin="round" stroke-linecap="round"/>
<path d="M540.0,1493.7 C538.2,1492.8 532.1,1489.1 529.1,1488.6 C526.1,1488.1 524.2,1489.1 521.9,1490.9 C519.5,1492.7 516.5,1496.4 515.0,1499.3 C513.5,1502.2 513.0,1505.5 513.0,1508.1 C513.0,1510.7 513.3,1513.0 515.0,1515.0 C516.7,1517.0 520.4,1518.7 523.1,1520.2 C525.8,1521.7 529.8,1523.5 531.1,1524.2" fill="none" stroke="#1a1a1a" stroke-width="1.4" stroke-linejoin="round" stroke-linecap="round"/>
<path d="M543.6,1496.5 C544.9,1497.8 547.1,1500.9 547.2,1504.1 C547.3,1507.2 546.1,1512.3 544.4,1515.4 C542.7,1518.5 539.4,1521.1 537.2,1522.6 C535.0,1524.1 532.5,1525.3 531.1,1524.2 C529.8,1523.1 529.3,1518.9 529.1,1516.2 C528.9,1513.5 529.0,1510.9 529.9,1508.1 C530.8,1505.3 532.8,1501.2 534.3,1499.3 C535.8,1497.4 537.7,1497.0 539.2,1496.5 C540.8,1496.0 542.3,1495.2 543.6,1496.5 Z" fill="#fff" stroke="#1a1a1a" stroke-width="1.4" stroke-linejoin="round" stroke-linecap="round"/>
<path d="M540.5,1496.0 C539.2,1496.3 535.2,1496.3 533.0,1498.0 C530.8,1499.7 528.6,1502.3 527.5,1506.0 C526.4,1509.7 526.7,1517.7 526.5,1520.0" fill="none" stroke="#1a1a1a" stroke-width="1.2" stroke-linejoin="round" stroke-linecap="round"/>
<line x1="167.8" y1="1159.3" x2="210.4" y2="1148.5" stroke="#111" stroke-width="1.3" stroke-linecap="round"/>
<line x1="165.7" y1="1215.2" x2="207.2" y2="1204.8" stroke="#111" stroke-width="1.3" stroke-linecap="round"/>
<line x1="265.9" y1="1236.9" x2="240.8" y2="1277.2" stroke="#111" stroke-width="1.3" stroke-linecap="round"/>
<line x1="98.1" y1="1329.4" x2="131.2" y2="1373.6" stroke="#111" stroke-width="1.3" stroke-linecap="round"/>
<line x1="292" y1="1297.3" x2="265.9" y2="1338.5" stroke="#111" stroke-width="1.3" stroke-linecap="round"/>
<line x1="385" y1="1272.9" x2="360.9" y2="1315.1" stroke="#111" stroke-width="1.3" stroke-linecap="round"/>
<line x1="506.8" y1="1345.2" x2="482.7" y2="1385" stroke="#111" stroke-width="1.3" stroke-linecap="round"/>
<line x1="566" y1="1453.5" x2="540.9" y2="1494.7" stroke="#111" stroke-width="1.3" stroke-linecap="round"/>
<text x="153.5" y="1165.1" font-size="16" fill="#151515" stroke="#151515" stroke-width="0.35">1</text>
<text x="150.6" y="1221.4" font-size="16" fill="#151515" stroke="#151515" stroke-width="0.35">2</text>
<text x="261.5" y="1235.0" font-size="16" fill="#151515" stroke="#151515" stroke-width="0.35">5,8</text>
<text x="85.7" y="1327.4" font-size="16" fill="#151515" stroke="#151515" stroke-width="0.35">6</text>
<text x="294.7" y="1294.2" font-size="16" fill="#151515" stroke="#151515" stroke-width="0.35">7</text>
<text x="377.5" y="1271.9" font-size="16" fill="#151515" stroke="#151515" stroke-width="0.35">4,10</text>
<text x="504.1" y="1341.8" font-size="16" fill="#151515" stroke="#151515" stroke-width="0.35">3,9</text>
<text x="564.7" y="1452.4" font-size="16" fill="#151515" stroke="#151515" stroke-width="0.35">11</text>
<circle cx="1224.6" cy="329.5" r="1.1" fill="#444"/>
<circle cx="463.4" cy="1295.5" r="0.9" fill="#444"/>
</svg></body></html>
